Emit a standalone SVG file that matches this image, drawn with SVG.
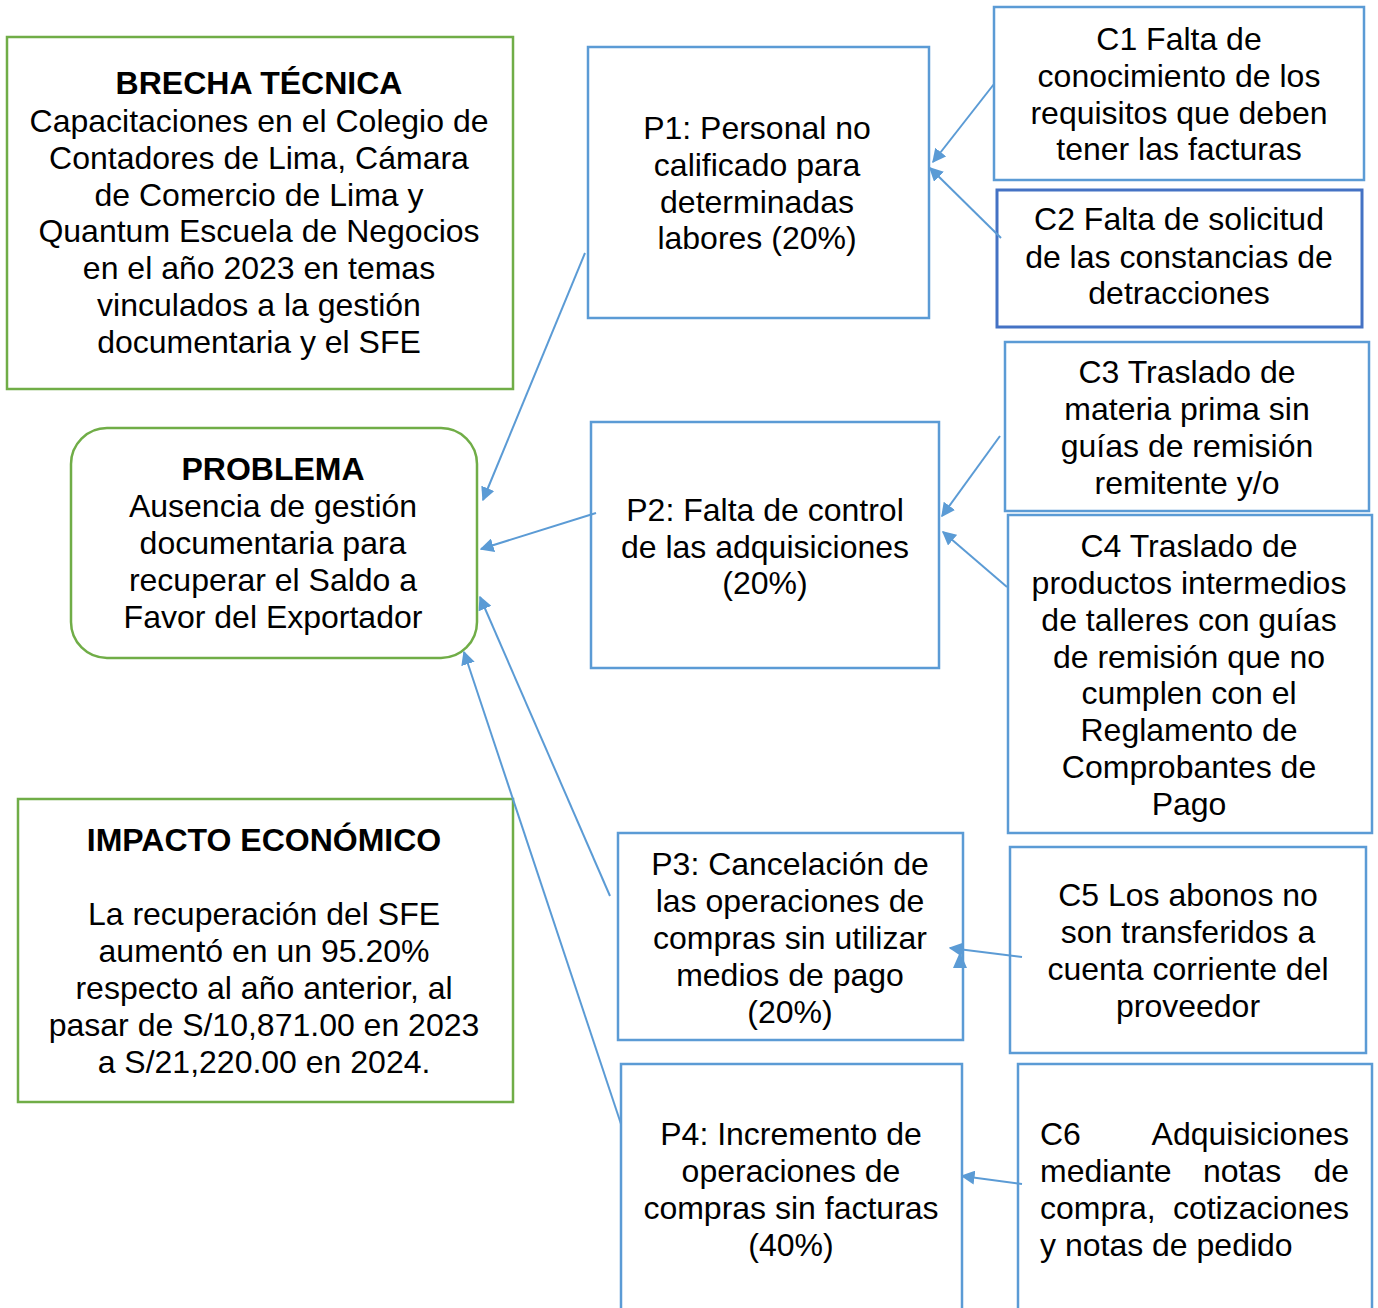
<svg xmlns="http://www.w3.org/2000/svg" width="1378" height="1308" viewBox="0 0 1378 1308">
<defs>
<style>
.g{fill:#fff;stroke:#70AD47;stroke-width:2.5}
.b{fill:#fff;stroke:#5B9BD5;stroke-width:2.5}
.d{fill:#fff;stroke:#4472C4;stroke-width:3}
text{font-family:"Liberation Sans",Arial,sans-serif;font-size:32px;fill:#000}
.c{text-anchor:middle}
.t{font-weight:bold}
.e{text-anchor:end}
.cn{stroke:#5B9BD5;stroke-width:2;fill:none;marker-end:url(#ah2)}
</style>
<marker id="ah2" viewBox="0 0 10 10" refX="9" refY="5" markerWidth="14" markerHeight="14" markerUnits="userSpaceOnUse" orient="auto">
<path d="M0,0 L10,5 L0,10 Z" fill="#5B9BD5"/>
</marker>
</defs>

<g id="brecha">
<rect class="g" x="7" y="37" width="506" height="352"/>
<text class="c" x="259"><tspan class="t" x="259" y="94">BRECHA TÉCNICA</tspan><tspan x="259" y="132">Capacitaciones en el Colegio de</tspan><tspan x="259" y="169">Contadores de Lima, Cámara</tspan><tspan x="259" y="206">de Comercio de Lima y</tspan><tspan x="259" y="242">Quantum Escuela de Negocios</tspan><tspan x="259" y="279">en el año 2023 en temas</tspan><tspan x="259" y="316">vinculados a la gestión</tspan><tspan x="259" y="353">documentaria y el SFE</tspan></text>
</g>

<g id="problema">
<rect class="g" x="71" y="428" width="406" height="230" rx="36"/>
<text class="c"><tspan class="t" x="273" y="480">PROBLEMA</tspan><tspan x="273" y="517">Ausencia de gestión</tspan><tspan x="273" y="554">documentaria para</tspan><tspan x="273" y="591">recuperar el Saldo a</tspan><tspan x="273" y="628">Favor del Exportador</tspan></text>
</g>

<g id="impacto">
<rect class="g" x="18" y="799" width="495" height="303"/>
<text class="c"><tspan class="t" x="264" y="851">IMPACTO ECONÓMICO</tspan><tspan x="264" y="925">La recuperación del SFE</tspan><tspan x="264" y="962">aumentó en un 95.20%</tspan><tspan x="264" y="999">respecto al año anterior, al</tspan><tspan x="264" y="1036">pasar de S/10,871.00 en 2023</tspan><tspan x="264" y="1073">a S/21,220.00 en 2024.</tspan></text>
</g>

<g id="p1">
<rect class="b" x="588" y="47" width="341" height="271"/>
<text class="c"><tspan x="757" y="139">P1: Personal no</tspan><tspan x="757" y="176">calificado para</tspan><tspan x="757" y="213">determinadas</tspan><tspan x="757" y="249">labores (20%)</tspan></text>
</g>

<g id="c1">
<rect class="b" x="994" y="7" width="370" height="173"/>
<text class="c"><tspan x="1179" y="50">C1 Falta de</tspan><tspan x="1179" y="87">conocimiento de los</tspan><tspan x="1179" y="124">requisitos que deben</tspan><tspan x="1179" y="160">tener las facturas</tspan></text>
</g>

<g id="c2">
<rect class="d" x="997" y="190" width="365" height="137"/>
<text class="c"><tspan x="1179" y="230">C2 Falta de solicitud</tspan><tspan x="1179" y="268">de las constancias de</tspan><tspan x="1179" y="304">detracciones</tspan></text>
</g>

<g id="c3">
<rect class="b" x="1005" y="342" width="364" height="169"/>
<text class="c"><tspan x="1187" y="383">C3 Traslado de</tspan><tspan x="1187" y="420">materia prima sin</tspan><tspan x="1187" y="457">guías de remisión</tspan><tspan x="1187" y="494">remitente y/o</tspan></text>
</g>

<g id="p2">
<rect class="b" x="591" y="422" width="348" height="246"/>
<text class="c"><tspan x="765" y="521">P2: Falta de control</tspan><tspan x="765" y="558">de las adquisiciones</tspan><tspan x="765" y="594">(20%)</tspan></text>
</g>

<g id="c4">
<rect class="b" x="1008" y="515" width="364" height="318"/>
<text class="c"><tspan x="1189" y="557">C4 Traslado de</tspan><tspan x="1189" y="594">productos intermedios</tspan><tspan x="1189" y="631">de talleres con guías</tspan><tspan x="1189" y="668">de remisión que no</tspan><tspan x="1189" y="704">cumplen con el</tspan><tspan x="1189" y="741">Reglamento de</tspan><tspan x="1189" y="778">Comprobantes de</tspan><tspan x="1189" y="815">Pago</tspan></text>
</g>

<g id="p3">
<rect class="b" x="618" y="833" width="345" height="207"/>
<text class="c"><tspan x="790" y="875">P3: Cancelación de</tspan><tspan x="790" y="912">las operaciones de</tspan><tspan x="790" y="949">compras sin utilizar</tspan><tspan x="790" y="986">medios de pago</tspan><tspan x="790" y="1023">(20%)</tspan></text>
</g>

<g id="c5">
<rect class="b" x="1010" y="847" width="356" height="206"/>
<text class="c"><tspan x="1188" y="906">C5 Los abonos no</tspan><tspan x="1188" y="943">son transferidos a</tspan><tspan x="1188" y="980">cuenta corriente del</tspan><tspan x="1188" y="1017">proveedor</tspan></text>
</g>

<g id="p4">
<rect class="b" x="621" y="1064" width="341" height="260"/>
<text class="c"><tspan x="791" y="1145">P4: Incremento de</tspan><tspan x="791" y="1182">operaciones de</tspan><tspan x="791" y="1219">compras sin facturas</tspan><tspan x="791" y="1256">(40%)</tspan></text>
</g>

<g id="c6">
<rect class="b" x="1018" y="1064" width="354" height="260"/>
<text><tspan x="1040" y="1145">C6</tspan><tspan class="e" x="1349" y="1145">Adquisiciones</tspan></text>
<text><tspan x="1040" y="1182">mediante</tspan><tspan x="1203" y="1182">notas</tspan><tspan class="e" x="1349" y="1182">de</tspan></text>
<text><tspan x="1040" y="1219">compra,</tspan><tspan class="e" x="1349" y="1219">cotizaciones</tspan></text>
<text><tspan x="1040" y="1256">y notas de pedido</tspan></text>
</g>

<g id="connectors">
<line class="cn" x1="585" y1="253" x2="483" y2="500"/>
<line class="cn" x1="596" y1="513" x2="481" y2="549"/>
<line class="cn" x1="610" y1="896" x2="480" y2="597"/>
<line class="cn" x1="621" y1="1124" x2="464" y2="652"/>
<line class="cn" x1="994" y1="84" x2="933" y2="162"/>
<line class="cn" x1="1001" y1="238" x2="930" y2="168"/>
<line class="cn" x1="1000" y1="436" x2="942" y2="516"/>
<line class="cn" x1="1007" y1="587" x2="943" y2="532"/>
<line class="cn" x1="1022" y1="957" x2="950" y2="948"/>
<path d="M953,968 L960,952 L967,968 Z" fill="#5B9BD5"/>
<line class="cn" x1="1022" y1="1184" x2="962" y2="1176"/>
</g>
</svg>
